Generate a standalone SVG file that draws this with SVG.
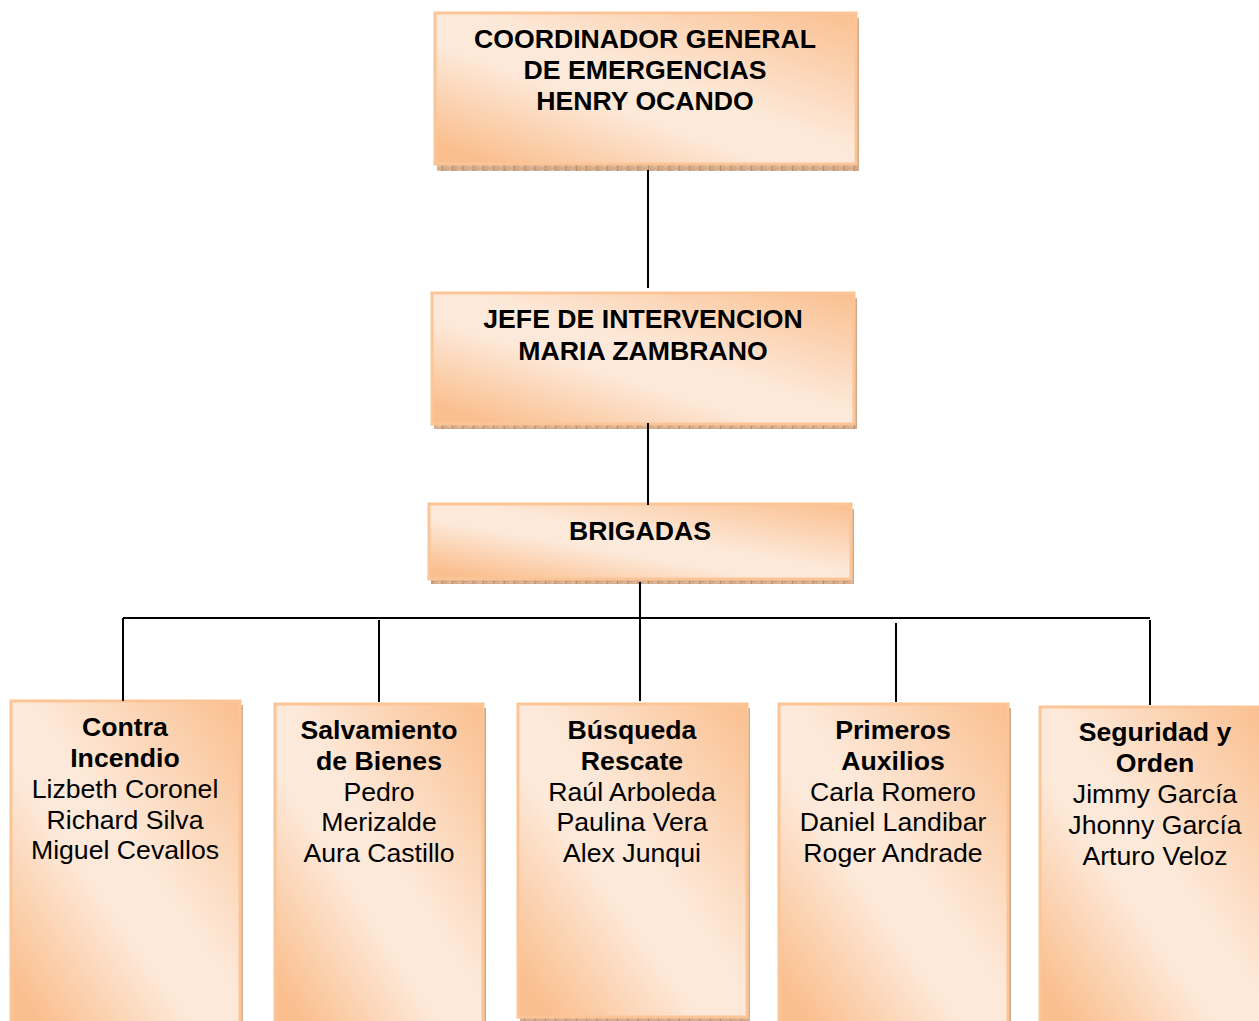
<svg xmlns="http://www.w3.org/2000/svg" width="1259" height="1021" viewBox="0 0 1259 1021">
<style>
text{font-family:"Liberation Sans",Arial,sans-serif;font-size:26.67px;fill:#000;text-anchor:middle}
.b{font-weight:bold}
.box{fill:url(#g);stroke:#fbc598;stroke-width:3}
.sh{fill:url(#tex)}
.c{stroke:#000;stroke-width:2;fill:none}
</style>
<defs>
<linearGradient id="g" x1="1" y1="0" x2="0" y2="1">
<stop offset="0" stop-color="#fabf8f"/><stop offset="0.46" stop-color="#fde9d9"/><stop offset="0.6" stop-color="#fde9d9"/><stop offset="0.93" stop-color="#fabf8f"/><stop offset="1" stop-color="#fabf8f"/>
</linearGradient>
<pattern id="tex" width="10.3" height="4" patternUnits="userSpaceOnUse">
<rect width="10.3" height="4" fill="#d6ad8c"/><rect x="1" y="1" width="2" height="1" fill="#c39d80"/><rect x="5" y="2" width="3" height="1" fill="#e3c6ad"/><rect x="9.3" width="1" height="4" fill="#b98a5f"/>
</pattern>
</defs>
<g id="n1"><rect class="sh" x="437" y="18" width="422" height="153"/><rect class="box" x="435" y="13" width="421" height="151"/>
<text class="b" x="645" y="48">COORDINADOR GENERAL</text><text class="b" x="645" y="79">DE EMERGENCIAS</text><text class="b" x="645" y="110">HENRY OCANDO</text></g>
<g id="n2"><rect class="sh" x="434" y="298" width="423" height="131"/><rect class="box" x="432" y="293" width="422" height="131"/>
<text class="b" x="643" y="328">JEFE DE INTERVENCION</text><text class="b" x="643" y="360">MARIA ZAMBRANO</text></g>
<g id="n3"><rect class="sh" x="431" y="509" width="423" height="75"/><rect class="box" x="429" y="504" width="422" height="75"/>
<text class="b" x="640" y="540">BRIGADAS</text></g>
<g id="n4"><rect class="sh" x="13" y="705" width="230" height="316"/><rect class="box" x="11" y="701" width="229" height="324"/>
<text class="b" x="125" y="736">Contra</text><text class="b" x="125" y="767">Incendio</text><text x="125" y="798">Lizbeth Coronel</text><text x="125" y="829">Richard Silva</text><text x="125" y="859">Miguel Cevallos</text></g>
<g id="n5"><rect class="sh" x="277" y="708" width="209" height="313"/><rect class="box" x="275" y="704" width="208" height="321"/>
<text class="b" x="379" y="739">Salvamiento</text><text class="b" x="379" y="770">de Bienes</text><text x="379" y="801">Pedro</text><text x="379" y="831">Merizalde</text><text x="379" y="862">Aura Castillo</text></g>
<g id="n6"><rect class="sh" x="520" y="708" width="230" height="313"/><rect class="box" x="518" y="704" width="229" height="313"/>
<text class="b" x="632" y="739">Búsqueda</text><text class="b" x="632" y="770">Rescate</text><text x="632" y="801">Raúl Arboleda</text><text x="632" y="831">Paulina Vera</text><text x="632" y="862">Alex Junqui</text></g>
<g id="n7"><rect class="sh" x="781" y="708" width="230" height="313"/><rect class="box" x="779" y="704" width="229" height="321"/>
<text class="b" x="893" y="739">Primeros</text><text class="b" x="893" y="770">Auxilios</text><text x="893" y="801">Carla Romero</text><text x="893" y="831">Daniel Landibar</text><text x="893" y="862">Roger Andrade</text></g>
<g id="n8"><rect class="box" x="1040" y="707" width="222" height="318"/>
<text class="b" x="1155" y="741">Seguridad y</text><text class="b" x="1155" y="772">Orden</text><text x="1155" y="803">Jimmy García</text><text x="1155" y="834">Jhonny García</text><text x="1155" y="865">Arturo Veloz</text></g>
<g id="connectors">
<path class="c" d="M648 170V288M648 423V505M640 582V701M123 618H1150M123 618V701M379 620V702M896 623V702M1150 620V705"/>
</g>
</svg>
